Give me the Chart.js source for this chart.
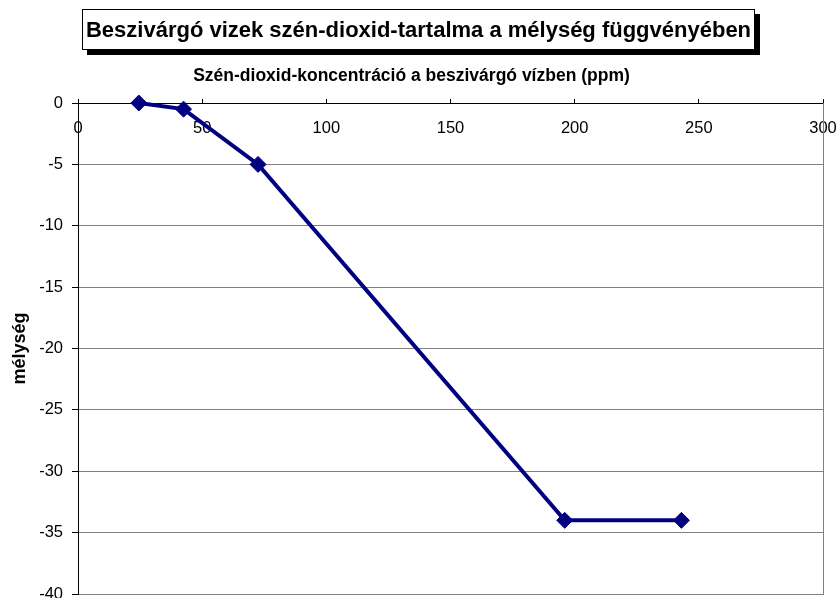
<!DOCTYPE html>
<html>
<head>
<meta charset="utf-8">
<script src="https://cdn.jsdelivr.net/npm/chart.js@4"></script>
<style>
  body { margin: 0; background: #fff; overflow: hidden; }
  #wrap { position: relative; width: 838px; height: 598px; overflow: hidden; }
  #chart_cv { display: block; }
  #title {
    position: absolute; left: 82px; top: 9px; width: 673px; height: 41px;
    box-sizing: border-box; border: 1px solid #000; background: #fff;
    box-shadow: 5px 5px 0 #000;
    font: bold 22px "Liberation Sans", Arial, sans-serif; color: #000;
    text-align: center; line-height: 39px; white-space: nowrap;
  }
</style>
</head>
<body>
<div id="wrap">
  <canvas id="chart_cv" width="838" height="603"></canvas>
  <div id="title">Beszivárgó vizek szén-dioxid-tartalma a mélység függvényében</div>
</div>
<script>
// adatok
const co2 = [24.5, 42.5, 72.5, 196, 243];   // ppm
const depth = [0, -0.5, -5, -34, -34];        // mélység
const xTicks = [0, 50, 100, 150, 200, 250, 300];
const yTicks = [-40, -35, -30, -25, -20, -15, -10, -5, 0];

const xTitle = 'Szén-dioxid-koncentráció a beszivárgó vízben (ppm)';
const yTitle = 'mélység';

Chart.defaults.font.family = '"Liberation Sans", Arial, sans-serif';
Chart.defaults.color = '#000';

// jobb oldali szürke keret
const plotBorder = {
  id: 'plotBorder',
  beforeDatasetsDraw(chart) {
    const { ctx, chartArea: a } = chart;
    ctx.save();
    ctx.strokeStyle = '#808080';
    ctx.lineWidth = 1;
    ctx.beginPath();
    ctx.moveTo(Math.round(a.right) + 0.5, a.top);
    ctx.lineTo(Math.round(a.right) + 0.5, a.bottom + 1);
    ctx.stroke();
    ctx.restore();
  }
};

const ctx = document.getElementById('chart_cv');
const chart_cv = new Chart(ctx, {
  type: 'scatter',
  data: {
    datasets: [{
      data: co2.map((x, i) => ({ x: x, y: depth[i] })),
      showLine: true,
      borderColor: '#000080',
      borderWidth: 4,
      backgroundColor: '#000080',
      pointStyle: 'rectRot',
      pointRadius: 8,
      pointHoverRadius: 8,
      pointBorderWidth: 1,
      pointBorderColor: '#000080',
      clip: false
    }]
  },
  options: {
    responsive: false,
    animation: false,
    layout: { padding: { top: 66, right: 15, bottom: 4, left: 0 } },
    plugins: {
      legend: { display: false },
      tooltip: { enabled: false },
      title: {
        display: true,
        text: xTitle,
        font: { size: 17.5, weight: 'bold' },
        color: '#000',
        padding: { top: 0, bottom: 16 }
      }
    },
    scales: {
      x: {
        type: 'linear',
        position: { y: 0 },
        min: xTicks[0],
        max: xTicks[xTicks.length - 1],
        ticks: { stepSize: xTicks[1] - xTicks[0], font: { size: 16.5 }, color: '#000', padding: 21, maxRotation: 0 },
        grid: { drawOnChartArea: false, tickLength: -5, tickColor: '#000' },
        border: { color: '#000', width: 1 },
        afterFit(scale) {
          scale.paddingLeft = 0;
          scale.paddingRight = 0;
          scale.paddingTop = 0;
          scale.paddingBottom = 0;
        }
      },
      y: {
        min: yTicks[0],
        max: yTicks[yTicks.length - 1],
        ticks: { stepSize: yTicks[1] - yTicks[0], font: { size: 16.5 }, color: '#000', padding: 9 },
        grid: {
          color: (c) => (c.tick && c.tick.value === 0 ? '#000' : '#808080'),
          tickColor: '#000',
          tickLength: 6
        },
        border: { color: '#000', width: 1 },
        title: {
          display: true,
          text: yTitle,
          font: { size: 18, weight: 'bold' },
          color: '#000',
          padding: { top: 9, bottom: 0 }
        },
        afterFit(scale) {
          scale.width = 78;
          scale.paddingTop = 0;
          scale.paddingBottom = 0;
        }
      }
    }
  },
  plugins: [plotBorder]
});
</script>
</body>
</html>
